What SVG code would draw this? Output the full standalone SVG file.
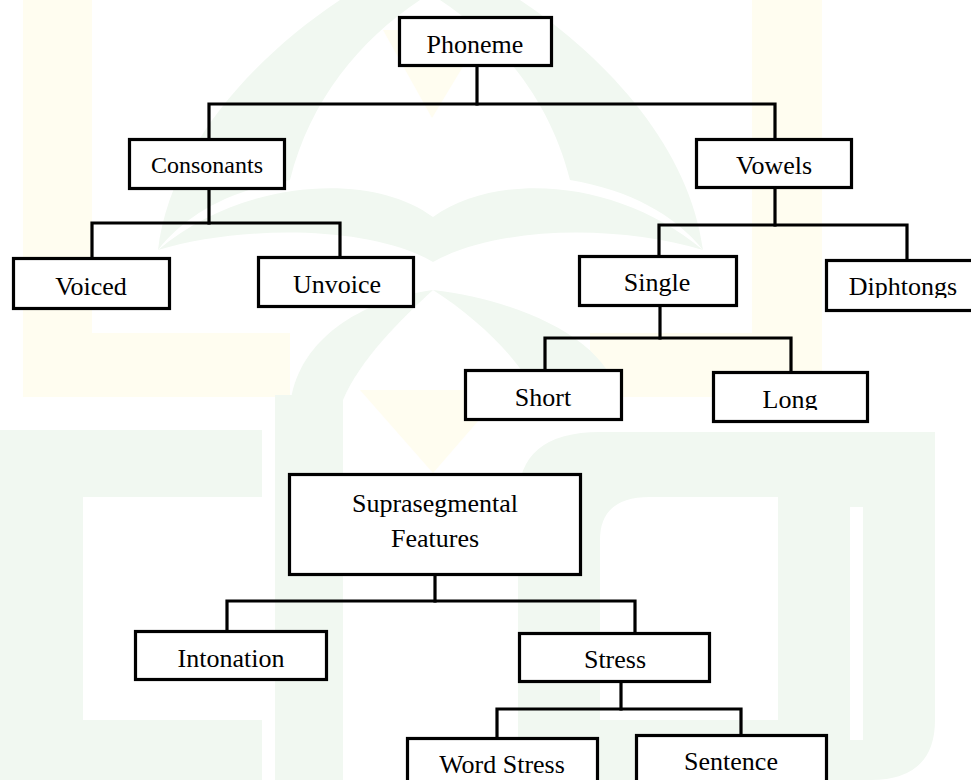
<svg xmlns="http://www.w3.org/2000/svg" width="971" height="780" viewBox="0 0 971 780">
<style>
.bg{fill:#ffffff}
.wg{fill:#f1f8f1}
.wy{fill:#fffdf0}
.box{fill:#ffffff;stroke:#000000;stroke-width:3.2}
.lbl{font-family:"Liberation Serif","Times New Roman",serif;font-size:26px;fill:#000000;text-anchor:middle}
.conn path{fill:none;stroke:#000000;stroke-width:3.2;stroke-linecap:square;stroke-linejoin:miter}
</style>
<defs>
<clipPath id="cSingle" clipPathUnits="userSpaceOnUse"><rect x="580" y="257" width="156" height="40"/></clipPath>
<clipPath id="cDiph" clipPathUnits="userSpaceOnUse"><rect x="827" y="261" width="150" height="37"/></clipPath>
<clipPath id="cLong" clipPathUnits="userSpaceOnUse"><rect x="714" y="373" width="153" height="37"/></clipPath>
</defs>
<rect class="bg" x="0" y="0" width="971" height="780"/>
<g id="watermark">
<path class="wy" d="M23,0 H92 V333 H290 V397 H23 Z"/>
<path class="wy" d="M752,0 H822 V397 H590 V333 H752 Z"/>
<path class="wy" d="M383,30 L485,30 L432,118 Z"/>
<path class="wy" d="M360,390 L505,390 L433,473 Z"/>
<path class="wg" d="M158,250 C170,150 250,60 340,0 L420,0 C360,40 310,100 290,180 C230,190 185,215 158,250 Z"/>
<path class="wg" d="M703,250 C690,150 610,60 520,0 L440,0 C500,40 550,100 570,180 C630,190 675,215 703,250 Z"/>
<path class="wg" d="M158,250 C240,180 370,170 433,217 C500,170 620,180 703,250 C620,225 500,225 433,262 C370,225 240,225 158,250 Z"/>
<path class="wg" d="M291,400 C300,340 360,300 433,290 C400,320 360,360 343,400 Z"/>
<path class="wg" d="M619,400 C610,340 520,300 433,290 C480,320 520,360 540,400 Z"/>
<path class="wg" fill-rule="evenodd" d="M0,430 H262 V780 H0 Z M83,497 H262 V720 H83 Z"/>
<rect class="wg" x="275" y="395" width="68" height="385"/>
<path class="wg" fill-rule="evenodd" d="M518,780 V500 Q518,432 600,432 H935 V720 Q935,780 870,780 Z M600,720 V540 Q600,497 650,497 H778 V720 Z M850,507 H863 V740 H850 Z"/>
</g>
<g id="connectors" class="conn">
<path d="M477,66 V104"/>
<path d="M209,139 V104 H775 V139"/>
<path d="M209,189 V223"/>
<path d="M92,258 V223 H340 V257"/>
<path d="M775,188 V225"/>
<path d="M659,256 V225 H907 V260"/>
<path d="M660,306 V338"/>
<path d="M545,370 V338 H791 V372"/>
<path d="M435,575 V601"/>
<path d="M227,631 V601 H635 V633"/>
<path d="M621,682 V709"/>
<path d="M497,738 V709 H741 V735"/>
</g>
<g id="phoneme"><rect class="box" x="399.5" y="17.5" width="152" height="48"/><text class="lbl" x="475" y="53">Phoneme</text></g>
<g id="consonants"><rect class="box" x="129.5" y="139.5" width="155" height="49"/><text class="lbl" x="207" y="173" style="font-size:24px">Consonants</text></g>
<g id="vowels"><rect class="box" x="696.5" y="139.5" width="155" height="48"/><text class="lbl" x="774" y="174">Vowels</text></g>
<g id="voiced"><rect class="box" x="13.5" y="258.5" width="156" height="50"/><text class="lbl" x="91" y="295">Voiced</text></g>
<g id="unvoice"><rect class="box" x="258.5" y="257.5" width="155" height="49"/><text class="lbl" x="337" y="293">Unvoice</text></g>
<g id="single"><rect class="box" x="579.5" y="256.5" width="157" height="49"/><text class="lbl" x="657" y="291" clip-path="url(#cSingle)">Single</text></g>
<g id="diphtongs"><rect class="box" x="826.5" y="260.5" width="160" height="50"/><text class="lbl" x="903" y="295" clip-path="url(#cDiph)">Diphtongs</text></g>
<g id="short"><rect class="box" x="465.5" y="370.5" width="156" height="49"/><text class="lbl" x="543" y="406">Short</text></g>
<g id="long"><rect class="box" x="713.5" y="372.5" width="154" height="49"/><text class="lbl" x="790" y="408" clip-path="url(#cLong)">Long</text></g>
<g id="suprasegmental"><rect class="box" x="289.5" y="474.5" width="291" height="100"/><text class="lbl" x="435" y="512">Suprasegmental</text><text class="lbl" x="435" y="547">Features</text></g>
<g id="intonation"><rect class="box" x="135.5" y="631.5" width="191" height="48"/><text class="lbl" x="231" y="667">Intonation</text></g>
<g id="stress"><rect class="box" x="519.5" y="633.5" width="190" height="48"/><text class="lbl" x="615" y="668">Stress</text></g>
<g id="wordstress"><rect class="box" x="407.5" y="738.5" width="190" height="60"/><text class="lbl" x="502" y="773">Word Stress</text></g>
<g id="sentence"><rect class="box" x="636.5" y="735.5" width="190" height="60"/><text class="lbl" x="731" y="770">Sentence</text></g>
</svg>
